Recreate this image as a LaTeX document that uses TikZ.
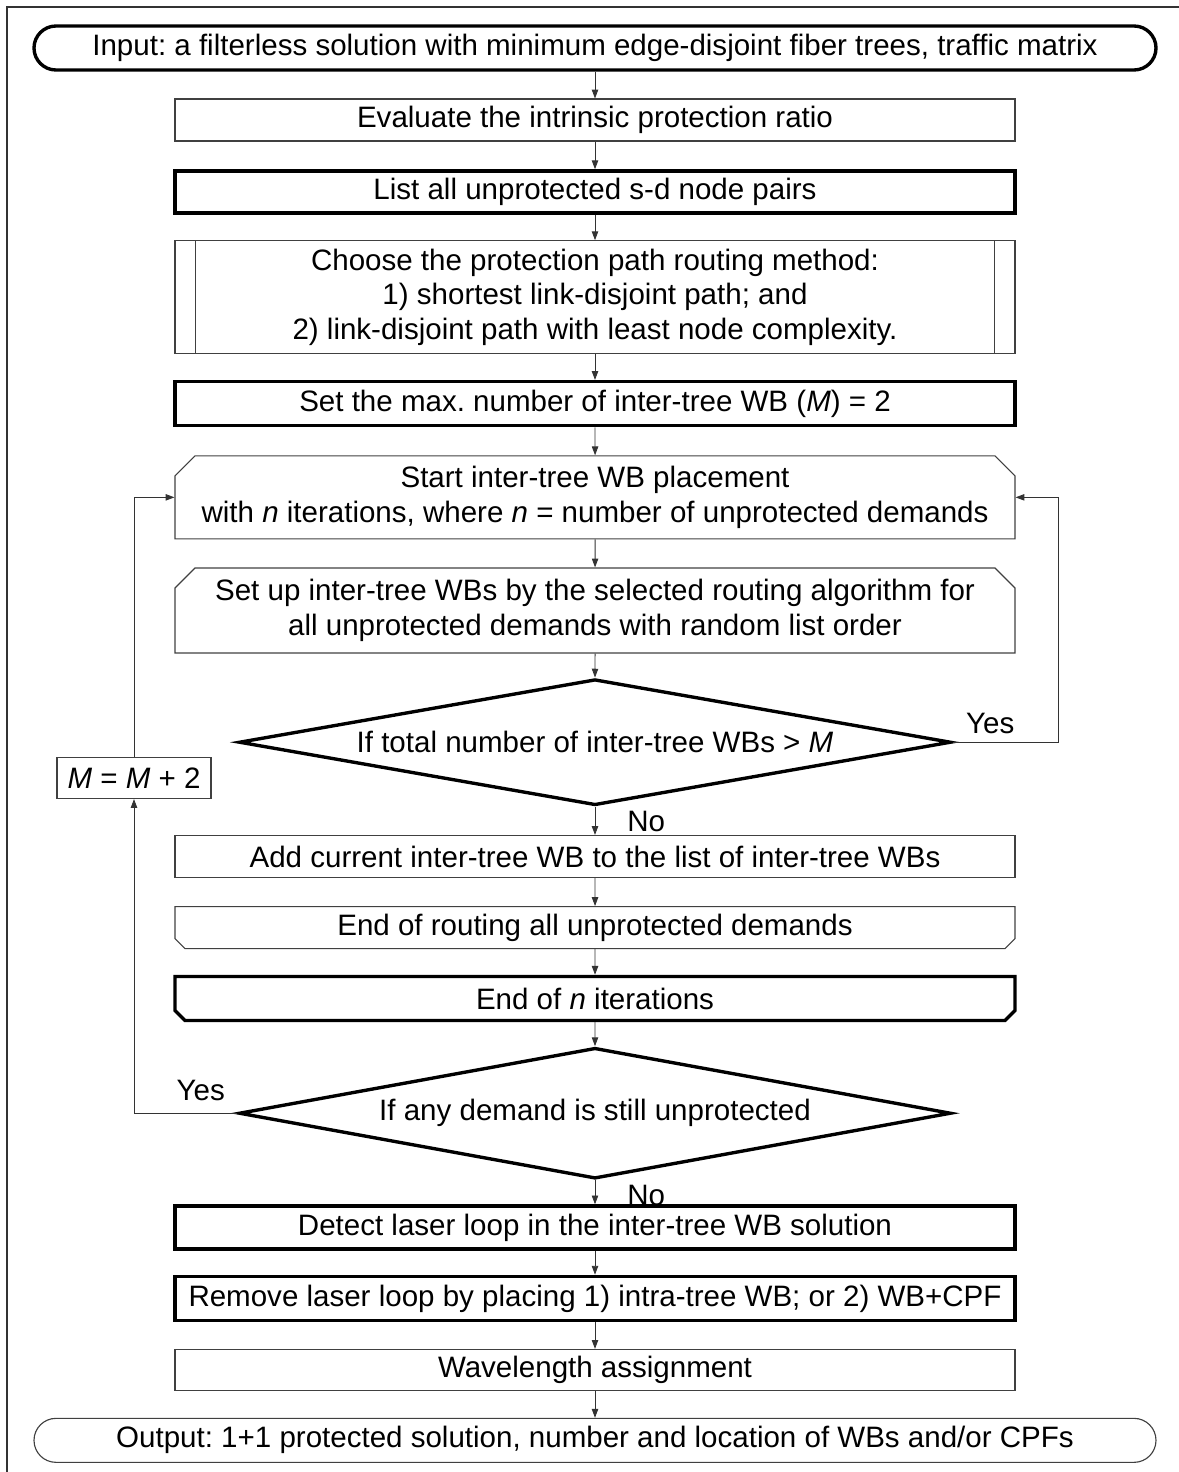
\documentclass[tikz,border=0pt]{standalone}
\usepackage{fontspec}
\setmainfont{Liberation Sans}
\usetikzlibrary{positioning,shapes.geometric,shapes.misc,arrows.meta}
\frenchspacing

\begin{document}
\begin{tikzpicture}[
	node distance=0.64cm,
	font=\fontsize{21}{24.5}\selectfont,
	block/.style={draw=black!75, line width=0.8pt, minimum width=21cm,
		inner sep=0pt, text centered, align=center},
	heavy/.style={block, draw=black, line width=2.4pt},
	term/.style={block, minimum width=28.05cm, minimum height=1.1cm, rounded corners=0.55cm},
	loopstart/.style={block, chamfered rectangle,
		chamfered rectangle corners={north west,north east},
		chamfered rectangle xsep=0.25cm, chamfered rectangle ysep=0.25cm},
	loopend/.style={block, chamfered rectangle,
		chamfered rectangle corners={south west,south east},
		chamfered rectangle xsep=0.125cm, chamfered rectangle ysep=0.125cm},
	decision/.style={diamond, draw, line width=2.4pt, shape aspect=5.7, minimum width=17.8cm,
		minimum height=3.15cm, inner sep=0pt, align=center},
	flow/.style={-{Triangle[length=0.22cm,width=0.16cm]}, draw=black!80, line width=0.6pt},
	answer/.style={inner sep=0pt}
	]
\useasboundingbox (0,0) rectangle (29.475,-36.8);
\draw[line width=1.2pt, black!80] (0.175,-0.175) rectangle (29.6,-37);

\node[term, draw=black, line width=2.4pt] (input) at (14.875,-1.2) {Input: a filterless solution with minimum edge-disjoint fiber trees, traffic matrix};
\node[block, minimum height=1.05cm, below=0.67cm of input] (eval) {Evaluate the intrinsic protection ratio};
\node[heavy, minimum height=1.05cm, below=0.69cm of eval] (list) {List all unprotected s-d node pairs};
\node[block, minimum height=2.825cm, below=of list] (choose) {Choose the protection path routing method:\\ 1) shortest link-disjoint path; and\\ 2) link-disjoint path with least node complexity.};
\node[heavy, minimum height=1.1cm, below=of choose] (setmax) {Set the max. number of inter-tree WB (\textit{M}) = 2};
\node[loopstart, minimum height=2.075cm, below=0.7cm of setmax] (start) {Start inter-tree WB placement\\ with \textit{n} iterations, where \textit{n} = number of unprotected demands};
\node[loopstart, minimum height=2.125cm, below=0.7cm of start] (setup) {Set up inter-tree WBs by the selected routing algorithm for\\ all unprotected demands with random list order};
\node[decision, below=0.6cm of setup] (total) {If total number of inter-tree WBs > \textit{M}};
\node[block, minimum height=1.05cm, below=0.7cm of total] (add) {Add current inter-tree WB to the list of inter-tree WBs};
\node[loopend, minimum height=1.05cm, below=0.7cm of add] (endroute) {End of routing all unprotected demands};
\node[loopend, draw=black, line width=2.4pt, minimum height=1.1cm, below=of endroute] (endn) {End of \textit{n} iterations};
\node[decision, minimum height=3.27cm, below=0.6cm of endn] (any) {If any demand is still unprotected};
\node[heavy, minimum height=1.075cm, below=0.6cm of any] (detect) {Detect laser loop in the inter-tree WB solution};
\node[heavy, minimum height=1.1cm, below=0.6cm of detect] (remove) {Remove laser loop by placing 1) intra-tree WB; or 2) WB+CPF};
\node[block, minimum height=1.025cm, below=0.67cm of remove] (wave) {Wavelength assignment};
\node[term, below=0.67cm of wave] (output) {Output: 1+1 protected solution, number and location of WBs and/or CPFs};

\node[block, minimum width=3.85cm, minimum height=1.025cm] (inc) at (3.35,-19.45) {\textit{M} = \textit{M} + 2};

\draw[black!75, line width=0.8pt] ([xshift=0.525cm]choose.north west) -- ([xshift=0.525cm]choose.south west)
	([xshift=-0.525cm]choose.north east) -- ([xshift=-0.525cm]choose.south east);

\draw[flow] (input) -- (eval);
\draw[flow] (eval) -- (list);
\draw[flow] (list) -- (choose);
\draw[flow] (choose) -- (setmax);
\draw[flow] (setmax) -- (start);
\draw[flow] (start) -- (setup);
\draw[flow] (setup) -- (total);
\draw[flow] (total) -- node[answer, pos=0, anchor=north west, xshift=0.8cm, yshift=-0.1cm] {No} (add);
\draw[flow] (total.east) node[answer, anchor=south west, xshift=0.325cm, yshift=0.2cm] {Yes}
	-| ([xshift=1.075cm]start.east) -- (start.east);
\draw[flow] (add) -- (endroute);
\draw[flow] (endroute) -- (endn);
\draw[flow] (endn) -- (any);
\draw[flow] (any) -- node[answer, pos=0, anchor=north west, xshift=0.8cm, yshift=-0.1cm] {No} (detect);
\draw[flow] (any.west) node[answer, anchor=south east, xshift=-0.3cm, yshift=0.3cm] {Yes} -| (inc);
\draw[flow] (inc) |- (start.west);
\draw[flow] (detect) -- (remove);
\draw[flow] (remove) -- (wave);
\draw[flow] (wave) -- (output);
\end{tikzpicture}
\end{document}
